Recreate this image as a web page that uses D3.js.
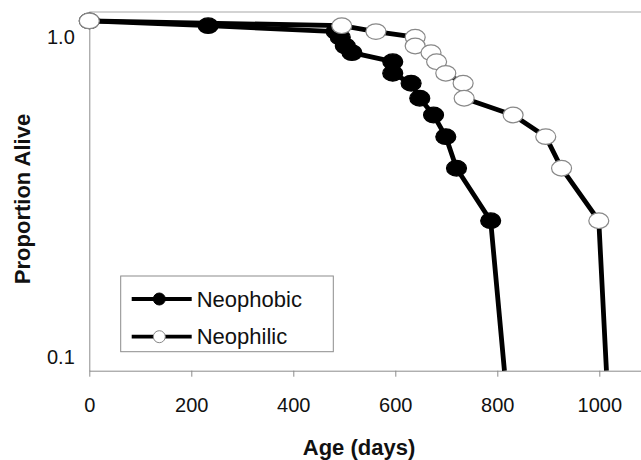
<!DOCTYPE html>
<html>
<head>
<meta charset="utf-8">
<script src="https://cdn.jsdelivr.net/npm/d3@7"></script>
<style>
  body { margin: 0; background: #fff; }
  svg { display: block; font-family: "Liberation Sans", Arial, sans-serif; }
</style>
</head>
<body>
<svg id="chart" width="641" height="460"></svg>
<script>
// Survival data (age in days, proportion alive)
const neophobicAge   = [0, 233, 484, 492, 502, 515, 595, 595, 631, 648, 675, 699, 720, 787, 814];
const neophobicAlive = [1.12, 1.082, 1.037, 0.996, 0.935, 0.891, 0.835, 0.768, 0.715, 0.642, 0.569, 0.487, 0.388, 0.266, 0.0904];
const neophilicAge   = [0, 495, 562, 639, 639, 670, 681, 699, 733, 735, 831, 895, 926, 999, 1014];
const neophilicAlive = [1.12, 1.082, 1.037, 0.996, 0.935, 0.891, 0.835, 0.768, 0.715, 0.642, 0.569, 0.487, 0.388, 0.266, 0.0904];
// last point of each series is the drop to zero (cut at the axis)

const xTicks = [0, 200, 400, 600, 800, 1000];
const yTicks = [0.1, 1.0];
const seriesNames = ['Neophobic', 'Neophilic'];

const svg = d3.select('#chart');

const plotLeft = 89.3, plotBottom = 370.7, plotTop = 12;

const x = d3.scaleLinear().domain([0, 1200]).range([plotLeft, plotLeft + 612]);
const y = d3.scaleLog().domain([0.0904, 1.194]).range([plotBottom, plotTop]);

const zip = (a, b) => a.map((d, i) => [d, b[i]]);
const series = [
  { name: seriesNames[0], pts: zip(neophobicAge, neophobicAlive), fill: '#000', stroke: '#000' },
  { name: seriesNames[1], pts: zip(neophilicAge, neophilicAlive), fill: '#fff', stroke: '#888' }
];

// top border of plot area
svg.append('line')
  .attr('x1', plotLeft).attr('x2', 641)
  .attr('y1', plotTop).attr('y2', plotTop)
  .attr('stroke', '#c4c4c4').attr('stroke-width', 1.5);

// x axis
const gx = svg.append('g')
  .attr('transform', `translate(0,${plotBottom})`)
  .call(d3.axisBottom(x).tickValues(xTicks).tickFormat(d3.format('d')).tickSize(6).tickSizeOuter(0));
gx.select('.domain').attr('stroke', '#8c8c8c');
gx.selectAll('.tick line').attr('stroke', '#8c8c8c');
gx.selectAll('.tick text')
  .attr('y', 34.3).attr('dy', '0.35em')
  .attr('font-size', 20).attr('fill', '#111')
  .attr('font-family', '"Liberation Sans", Arial, sans-serif');

// y axis
const gy = svg.append('g')
  .attr('transform', `translate(${plotLeft},0)`)
  .call(d3.axisLeft(y).tickValues(yTicks).tickFormat(d3.format('.1f')).tickSize(0).tickSizeOuter(0).tickPadding(14.5));
gy.select('.domain').attr('stroke', '#8c8c8c');
gy.selectAll('.tick text')
  .attr('font-size', 20).attr('fill', '#111')
  .attr('font-family', '"Liberation Sans", Arial, sans-serif');

// axis titles
svg.append('text')
  .attr('x', 359).attr('y', 447).attr('dy', '0.35em')
  .attr('text-anchor', 'middle')
  .attr('font-size', 22).attr('font-weight', 'bold').attr('fill', '#111')
  .text('Age (days)');

svg.append('text')
  .attr('transform', 'translate(22,199) rotate(-90)')
  .attr('dy', '0.35em')
  .attr('text-anchor', 'middle')
  .attr('font-size', 22).attr('font-weight', 'bold').attr('fill', '#111')
  .text('Proportion Alive');

// lines and markers
const line = d3.line().x(d => x(d[0])).y(d => y(d[1]));

series.forEach(s => {
  svg.append('path')
    .datum(s.pts)
    .attr('d', line)
    .attr('fill', 'none')
    .attr('stroke', '#000')
    .attr('stroke-width', 4.8)
    .attr('stroke-linejoin', 'round');
});

series.forEach(s => {
  svg.append('g')
    .selectAll('ellipse')
    .data(s.pts.slice(0, -1))
    .join('ellipse')
    .attr('cx', d => x(d[0]))
    .attr('cy', d => y(d[1]))
    .attr('rx', 10).attr('ry', 7.8)
    .attr('fill', s.fill)
    .attr('stroke', s.stroke)
    .attr('stroke-width', 1.2);
});

// legend
const lg = svg.append('g');
lg.append('rect')
  .attr('x', 120.7).attr('y', 276)
  .attr('width', 212.6).attr('height', 75.7)
  .attr('fill', '#fff')
  .attr('stroke', '#8c8c8c').attr('stroke-width', 1);

series.forEach((s, i) => {
  const ly = 299 + i * 37.7;
  lg.append('line')
    .attr('x1', 131.7).attr('x2', 191.7)
    .attr('y1', ly).attr('y2', ly)
    .attr('stroke', '#000').attr('stroke-width', 3.8);
  lg.append('circle')
    .attr('cx', 159.3).attr('cy', ly).attr('r', 6)
    .attr('fill', s.fill).attr('stroke', s.stroke).attr('stroke-width', 1);
  lg.append('text')
    .attr('x', 196.7).attr('y', ly).attr('dy', '0.35em')
    .attr('font-size', 22).attr('fill', '#111')
    .text(s.name);
});
</script>
</body>
</html>
